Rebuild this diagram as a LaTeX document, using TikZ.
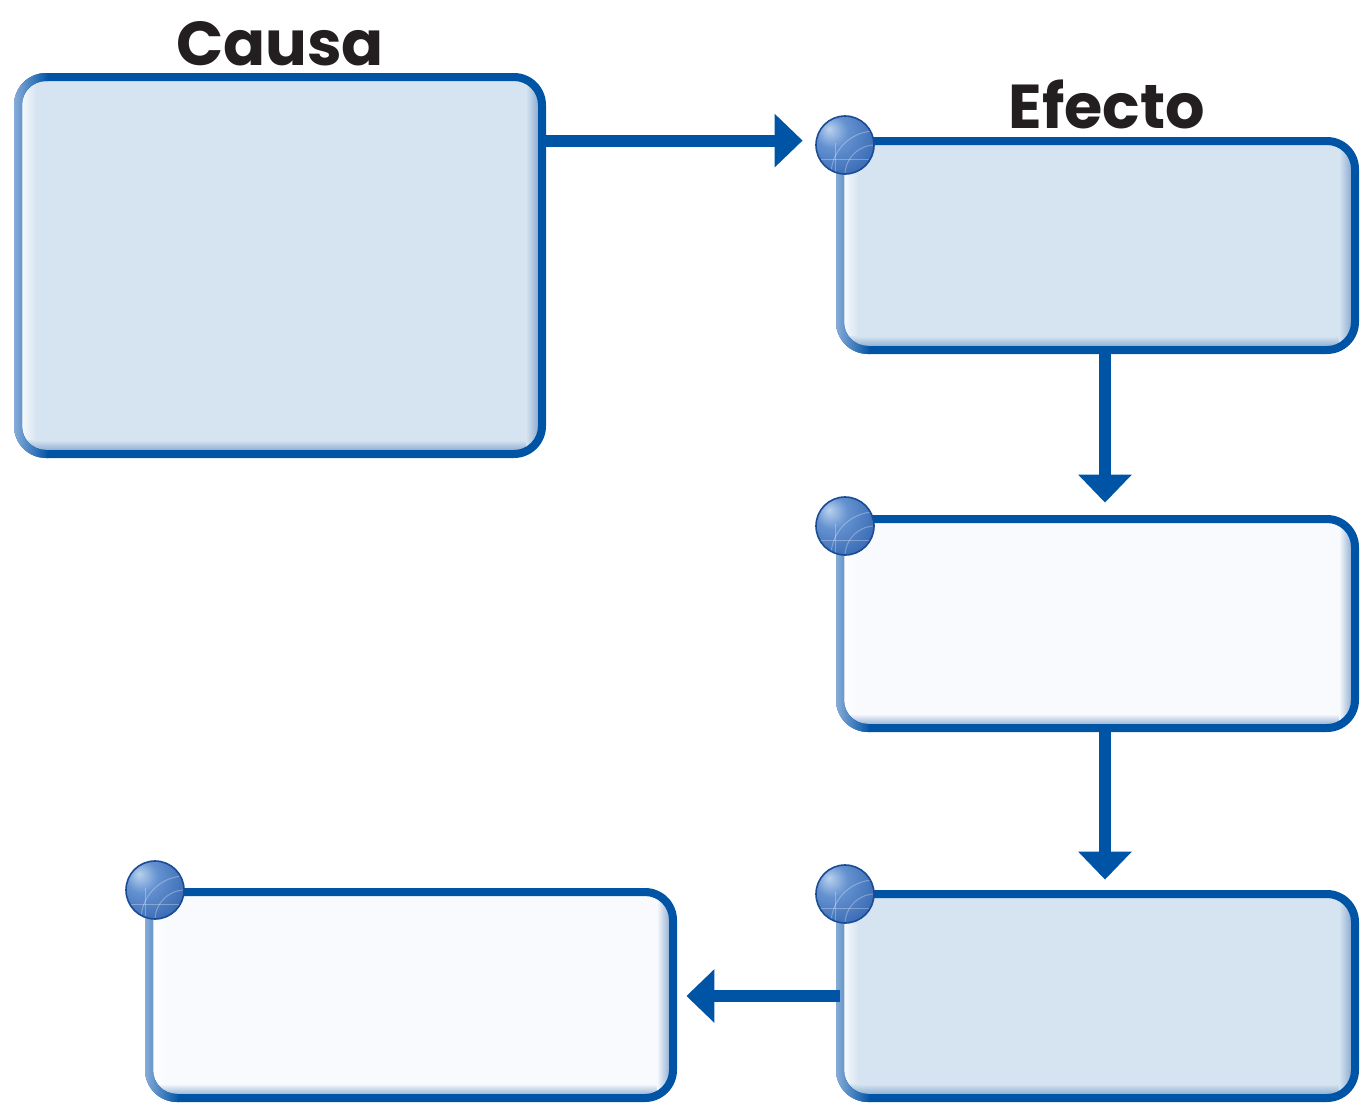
\documentclass[tikz,border=0pt]{standalone}
\usepackage{fontspec}
\newfontfamily\titlefont{Poppins}
\usetikzlibrary{arrows.meta,fit}
\definecolor{dkblue}{RGB}{0,84,166}
\definecolor{ltborder}{RGB}{143,177,218}
\definecolor{fillblue}{RGB}{214,228,241}
\definecolor{fillpale}{RGB}{248,250,253}
\definecolor{shadowc}{RGB}{120,155,200}
\definecolor{txt}{RGB}{35,31,32}
\definecolor{ballhi}{RGB}{185,210,238}
\definecolor{ballmid}{RGB}{100,145,208}
\definecolor{balllo}{RGB}{50,100,175}
\definecolor{balledge}{RGB}{25,75,150}
\pgfdeclareradialshading{bluesphere}{\pgfpoint{-14bp}{14bp}}{%
  color(0bp)=(ballhi); color(14bp)=(ballmid); color(40bp)=(balllo); color(62bp)=(balledge); color(80bp)=(balledge)}
\tikzset{
  arr/.style={draw=dkblue, line width=6pt, -{Triangle[length=14pt,width=26pt]}},
  title/.style={font=\titlefont\bfseries\fontsize{31pt}{37pt}\selectfont, text=txt, inner sep=0},
  boxnode/.style={inner sep=0, draw=none}
}
% #1 name, #2 x0, #3 y0, #4 x1, #5 y1, #6 fill colour
\newcommand\drawflowbox[6]{%
  \fill[#6, rounded corners=14pt] (#2,#3) rectangle (#4,#5);
  \begin{scope}
    \clip[rounded corners=14pt] (#2,#3) rectangle (#4,#5);
    \shade[left color=white, right color=#6] (#2,#3) rectangle ({#2+18},#5);
    \shade[top color=#6, bottom color=shadowc] (#2,{#5-14}) rectangle (#4,#5);
    \shade[left color=#6, right color=shadowc] ({#4-16},#3) rectangle (#4,#5);
  \end{scope}
  \begin{scope}[even odd rule]
    \clip[rounded corners=16pt] ({#2-4},{#3-4}) rectangle ({#4+4},{#5+4})
         [rounded corners=12pt] ({#2+4},{#3+4}) rectangle ({#4-4},{#5-4});
    \fill[dkblue] ({#2-6},{#3-6}) rectangle ({#4+6},{#5+6});
    \shade[left color=ltborder, right color=dkblue] ({#2-6},{#3-6}) rectangle ({#2+30},{#5+6});
  \end{scope}
  \node[boxnode, fit={(#2,#3) (#4,#5)}] (#1) {};
}
% ball at centre
\newcommand\drawball[2]{%
  \shade[shading=bluesphere] (#1,#2) circle (29);
  \begin{scope}
    \clip (#1,#2) circle (29);
    \draw[white, opacity=0.3, line width=0.5pt] ({#1+30},{#2+30}) circle (30);
    \draw[white, opacity=0.3, line width=0.5pt] ({#1+30},{#2+30}) circle (44);
    \draw[white, opacity=0.3, line width=0.5pt] ({#1-10},{#2-2}) -- ({#1-10},{#2+30});
    \draw[white, opacity=0.3, line width=0.5pt] ({#1-25},{#2+14}) -- ({#1+30},{#2+14});
  \end{scope}
  \draw[balledge, line width=0.8pt] (#1,#2) circle (29);
}
\begin{document}
\begin{tikzpicture}[x=0.5pt,y=-0.5pt]
\useasboundingbox (0,0) rectangle (1361,1103);
\drawflowbox{C}{18}{77}{542}{454}{fillblue}
\drawflowbox{E1}{840}{141}{1355}{350}{fillblue}
\drawflowbox{E2}{840}{519}{1355}{728}{fillpale}
\drawflowbox{E3}{840}{894}{1355}{1098}{fillblue}
\drawflowbox{E4}{149}{892}{673}{1098}{fillpale}
\node[title] (tcausa) at (280,44) {Causa};
\node[title] (tefecto) at (1107,104) {Efecto};
% connectors
\draw[arr, shorten >=18.5pt] (C.east |- E1.north) ++(0,0) coordinate (a0) (a0) -- (a0 -| E1.west);
\draw[arr, shorten >=8pt] ([xshift=3.75pt]E1.south) -- ([xshift=3.75pt]E2.north);
\draw[arr, shorten >=7pt] ([xshift=3.75pt]E2.south) -- ([xshift=3.75pt]E3.north);
\draw[arr, shorten >=6.5pt] (E3.west) -- (E3.west -| E4.east);
% balls
\drawball{845}{145}
\drawball{845}{526}
\drawball{845}{894}
\drawball{155}{890}
\end{tikzpicture}
\end{document}
